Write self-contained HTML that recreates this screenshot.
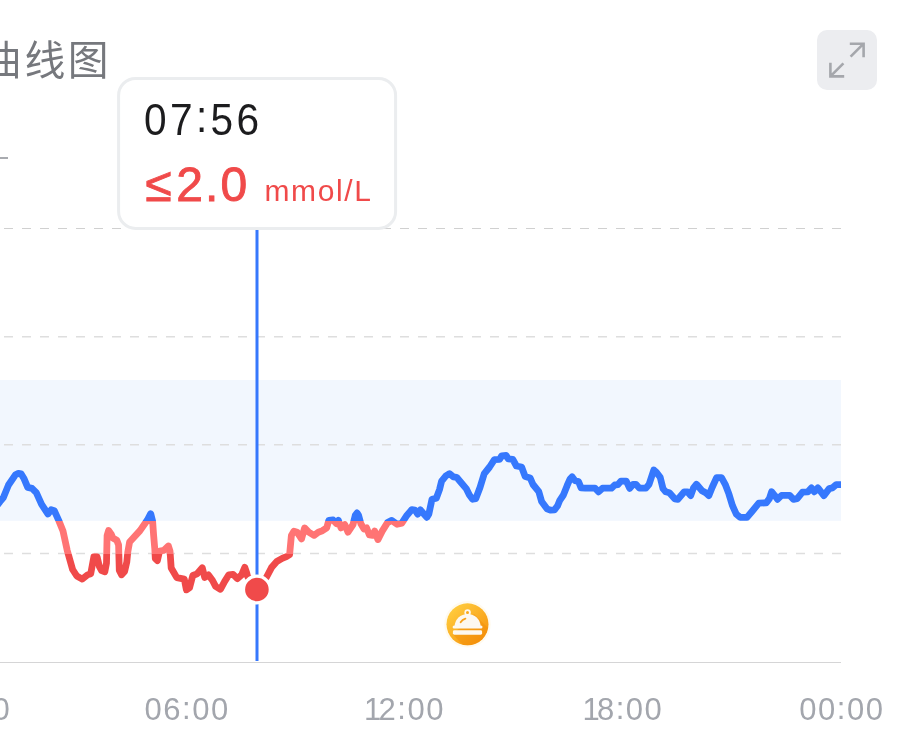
<!DOCTYPE html>
<html lang="zh"><head><meta charset="utf-8"><title>曲线图</title>
<style>
html,body{margin:0;padding:0;background:#fff;}
body{width:910px;height:750px;overflow:hidden;position:relative;font-family:"Liberation Sans","Noto Sans CJK SC",sans-serif;}
svg{position:absolute;left:0;top:0;will-change:transform;}
.t{position:absolute;white-space:nowrap;line-height:1;will-change:transform;}
.title{left:-18.9px;top:41.2px;font-size:40.8px;letter-spacing:2.6px;color:#76787d;font-family:"Liberation Sans","Noto Sans CJK SC",sans-serif;font-weight:400;}
</style></head><body>
<svg width="910" height="750" viewBox="0 0 910 750">
<defs>
<linearGradient id="lg" gradientUnits="userSpaceOnUse" x1="0" y1="0" x2="0" y2="750">
<stop offset="0" stop-color="#3678fd"/><stop offset="0.69440" stop-color="#3678fd"/>
<stop offset="0.69440" stop-color="#ff7474"/><stop offset="0.73827" stop-color="#ff7474"/>
<stop offset="0.73827" stop-color="#f04a4a"/><stop offset="1" stop-color="#f04a4a"/>
</linearGradient>
<linearGradient id="og" x1="0.15" y1="0.1" x2="0.85" y2="0.9">
<stop offset="0" stop-color="#ffcb3d"/><stop offset="1" stop-color="#f7950e"/>
</linearGradient>
<clipPath id="cp"><rect x="0" y="200" width="841" height="462"/></clipPath>
<clipPath id="cc"><circle cx="467.5" cy="624.3" r="21"/></clipPath>
</defs>
<!-- in-range band -->
<rect x="0" y="380" width="841" height="140.8" fill="#f2f7fe"/>
<!-- grid -->
<g stroke="#dedede" stroke-width="1.6" stroke-dasharray="9 9" fill="none">
<line x1="4" y1="228.5" x2="841" y2="228.5" stroke="#d0d0d0" stroke-width="1.1"/>
<line x1="4" y1="336.8" x2="841" y2="336.8"/>
<line x1="4" y1="444.8" x2="841" y2="444.8"/>
<line x1="4" y1="553.5" x2="841" y2="553.5"/>
</g>
<line x1="0" y1="662.5" x2="841" y2="662.5" stroke="#d5d5d6" stroke-width="1.2"/>
<!-- small dash top-left -->
<line x1="0" y1="158" x2="8" y2="158" stroke="#a9abb0" stroke-width="2"/>
<!-- curve -->
<g clip-path="url(#cp)">
<path d="M-3.0,505.5 L0.0,501.6 L3.4,497.5 L8.5,485.0 L15.4,474.8 L18.4,473.4 L21.2,473.9 L23.8,478.2 L27.7,487.4 L32.0,488.4 L36.3,492.7 L41.6,504.4 L48.0,514.0 L51.2,509.8 L54.4,510.8 L58.7,520.4 L63.0,531.0 L67.2,550.3 L72.6,569.5 L76.8,576.0 L82.2,579.1 L87.5,574.9 L90.7,573.8 L93.9,556.7 L97.1,556.7 L99.3,566.3 L101.6,570.6 L104.8,571.8 L106.5,563.0 L107.1,535.4 L108.6,530.6 L111.4,534.5 L112.8,538.0 L116.8,540.2 L118.6,545.0 L119.3,570.5 L121.6,574.8 L124.6,571.5 L126.8,562.0 L127.8,552.0 L129.6,542.0 L140.0,530.6 L147.2,520.3 L150.7,513.7 L152.6,521.0 L153.6,535.0 L154.8,549.0 L155.3,558.5 L157.4,560.6 L159.6,551.0 L164.0,550.3 L168.4,546.0 L170.0,551.0 L171.2,568.0 L176.8,577.6 L184.3,579.1 L186.4,589.8 L189.6,587.7 L192.8,575.5 L197.1,573.8 L202.3,567.8 L204.7,577.5 L208.5,574.9 L212.4,580.2 L215.6,586.4 L220.4,589.3 L224.7,581.3 L228.8,574.9 L233.1,574.4 L237.3,578.6 L241.6,574.9 L244.8,567.3 L246.6,572.5 L247.6,576.5 L257.0,589.5 L266.6,577.0 L271.5,567.6 L276.8,561.5 L282.2,558.4 L286.4,556.6 L289.6,554.6 L291.4,535.4 L293.9,531.1 L297.1,532.2 L301.5,539.0 L304.6,527.9 L308.7,532.2 L314.0,535.4 L318.3,532.2 L322.4,530.7 L326.7,527.9 L328.8,520.4 L333.1,520.0 L336.3,523.6 L338.4,520.4 L341.0,527.9 L344.8,524.7 L348.0,532.2 L353.0,524.6 L355.3,515.2 L357.0,512.9 L358.6,515.4 L360.9,523.8 L364.0,529.0 L366.6,527.9 L369.4,535.0 L372.6,535.4 L374.7,531.1 L377.9,539.6 L382.2,531.1 L387.5,522.6 L391.8,520.4 L397.1,524.3 L401.8,523.2 L407.0,515.2 L411.9,509.6 L415.0,510.0 L417.7,514.2 L420.4,509.9 L423.9,514.0 L426.8,517.3 L428.8,514.2 L432.0,499.3 L436.3,498.2 L439.5,489.6 L441.6,481.1 L445.9,475.8 L449.5,473.6 L453.4,476.8 L456.6,477.3 L460.8,482.2 L466.2,488.6 L469.4,495.0 L472.6,499.3 L475.8,498.6 L480.0,487.5 L484.3,473.6 L489.6,467.0 L494.4,459.6 L499.6,459.4 L501.6,455.8 L506.2,455.5 L508.2,458.9 L512.8,459.4 L516.4,466.0 L521.6,467.0 L525.2,476.6 L530.2,478.0 L533.0,484.5 L538.8,491.6 L541.6,501.5 L547.0,508.8 L550.4,510.2 L554.6,509.8 L557.6,505.7 L559.8,500.3 L563.4,495.0 L567.2,485.4 L570.0,479.0 L572.1,476.8 L575.1,480.7 L578.5,481.5 L581.1,487.9 L585.4,488.2 L595.0,488.2 L598.6,491.8 L602.5,488.2 L611.4,488.2 L614.8,485.0 L617.8,484.7 L621.0,481.1 L626.3,481.1 L629.7,488.4 L633.1,484.3 L635.9,484.3 L639.5,488.2 L645.9,488.2 L649.1,484.3 L653.8,470.0 L656.6,472.6 L660.2,477.3 L663.0,488.6 L665.7,491.8 L669.4,492.8 L674.7,498.8 L677.9,499.3 L684.3,491.8 L687.5,491.8 L690.7,495.6 L693.5,487.9 L696.5,484.3 L702.0,490.7 L705.7,492.8 L708.9,495.6 L712.1,487.5 L716.6,477.6 L721.5,477.6 L725.2,484.3 L728.9,493.9 L732.5,505.7 L736.3,514.2 L740.2,517.4 L747.0,517.4 L752.4,511.0 L758.8,503.1 L766.2,502.9 L769.4,498.6 L771.6,491.8 L774.8,495.6 L777.5,499.3 L781.6,495.4 L789.7,495.4 L793.5,499.3 L797.2,498.6 L802.5,492.2 L807.8,491.8 L811.5,487.9 L814.3,491.8 L817.9,487.9 L823.9,495.6 L829.2,488.6 L832.4,487.9 L836.2,484.7 L845.0,484.7" fill="none" stroke="url(#lg)" stroke-width="6.8" stroke-linejoin="round" stroke-linecap="round"/>
</g>
<!-- cursor line -->
<line x1="257" y1="229" x2="257" y2="661" stroke="#3678fd" stroke-width="3"/>
<circle cx="256.9" cy="589.5" r="13.4" fill="#f04a4a" stroke="#fff" stroke-width="3.2"/>
<!-- meal icon -->
<circle cx="467.5" cy="624.3" r="23.2" fill="#fffaee"/>
<circle cx="467.5" cy="624.3" r="21" fill="url(#og)"/>
<g clip-path="url(#cc)">
<path d="M474,614 L506,646 L484,668 L452.9,634.2 Z" fill="#ef8a06" opacity="0.4"/>
</g>
<g fill="#fdf8ef">
<circle cx="467.6" cy="612.5" r="3.2"/>
<path d="M454.7,626.2 A12.9,12.3 0 0 1 480.5,626.2 Z"/>
<rect x="452.6" y="625.6" width="29.9" height="3" rx="1.5"/>
<rect x="452.9" y="630.3" width="29.2" height="4.4" rx="1.4"/>
</g>
<circle cx="467.5" cy="612.6" r="1.5" fill="#f9a81c"/>
<path d="M460.6,622.3 A8.5,8.5 0 0 1 465.4,618.6" fill="none" stroke="#f9a21a" stroke-width="1.8" stroke-linecap="round"/>
<!-- expand button -->
<rect x="817" y="30" width="60" height="60" rx="10" fill="#ecedf0"/>
<g fill="none" stroke="#a5a7ac" stroke-width="2.6">
<path d="M849.8,43.7 H863.6 V57.2 M863.6,43.7 L850.6,56.6"/>
<path d="M830.4,62.8 V76.4 H844.2 M830.4,76.4 L843.4,63.4"/>
</g>
<!-- tooltip -->
<rect x="118.6" y="78.4" width="277" height="150" rx="17" fill="#fff" stroke="#ebedef" stroke-width="3"/>
<!-- texts -->
<g font-family="'Liberation Sans','Noto Sans CJK SC',sans-serif">
<text transform="translate(144.1,135) scale(0.92,1)" font-size="44.2" fill="#1c1c1e" letter-spacing="3.6" dy="0 0 -3 3 0">07:56</text>
<g fill="#f04a4a" stroke="#f04a4a" stroke-width="0.9">
<text x="145.2 176.2" y="200.6" font-size="48" letter-spacing="2.2">≤2.0</text>
</g>
<text x="264.4" y="200.7" font-size="30" fill="#f04a4a" letter-spacing="1.65">mmol/L</text>
<g font-size="31" fill="#a3a6ad" letter-spacing="1.5">
<text x="-73.9" y="720.2" dy="0 0 -1.5 1.5 0">00:00</text>
<text x="144.5" y="720.2" dy="0 0 -1.5 1.5 0">06:00</text>
<text x="364.1 378.6" y="720.2" dy="0 0 -1.5 1.5 0">12:00</text>
<text x="582.4 596.9" y="720.2" dy="0 0 -1.5 1.5 0">18:00</text>
<text x="799.3" y="720.2" dy="0 0 -1.5 1.5 0">00:00</text>
</g>
</g>
</svg>
<div class="t title">曲线图</div>
</body></html>
